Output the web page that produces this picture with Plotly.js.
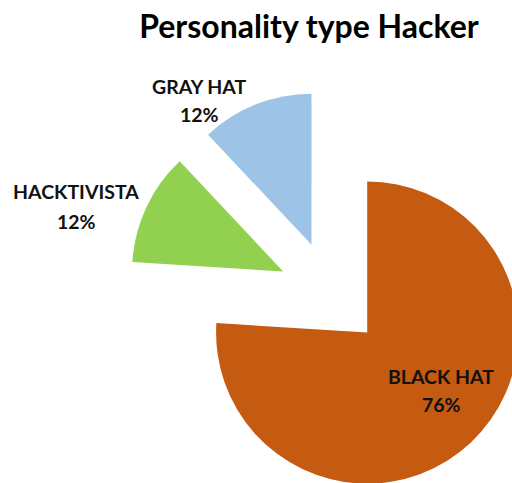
<!DOCTYPE html>
<html>
<head>
<meta charset="utf-8">
<script src="https://cdn.plot.ly/plotly-3.0.1.min.js"></script>
<style>
html,body{margin:0;padding:0;overflow:hidden;background:#fff;width:512px;height:483px;}
#chart{width:540px;height:500px;}
</style>
</head>
<body>
<div id="chart"></div>
<script>
// Data
var categories = ["BLACK HAT", "HACKTIVISTA", "GRAY HAT"];
var values = [76, 12, 12];
var colors = ["#C55A11", "#92D050", "#9DC3E6"];
var titleText = "Personality type Hacker";

// Layout geometry (pixels)
var W = 540, H = 500, ML = 127, MT = 90, BOX = 408;
function px(x){ return (x - ML) / BOX; }
function py(y){ return 1 - (y - MT) / BOX; }

var total = values.reduce(function(a,b){return a+b;}, 0);
function pct(v){ return Math.round(v / total * 100) + "%"; }

// label positions (pixel centres of the two text lines)
var labelPos = [
  {x: 441, y1: 376, y2: 404},
  {x: 76,  y1: 191, y2: 221},
  {x: 199, y1: 86,  y2: 114}
];

var labelFont = {family:"Lato, 'Open Sans', sans-serif", size:19.5, color:"#111"};
var annotations = [];
categories.forEach(function(c, i){
  var p = labelPos[i];
  annotations.push({xref:"paper", yref:"paper", x:px(p.x), y:py(p.y1), text:"<b>"+c+"</b>",
    showarrow:false, xanchor:"center", yanchor:"middle", font:labelFont});
  annotations.push({xref:"paper", yref:"paper", x:px(p.x), y:py(p.y2), text:"<b>"+pct(values[i])+"</b>",
    showarrow:false, xanchor:"center", yanchor:"middle", font:labelFont});
});

var trace = {
  type: "pie",
  labels: categories,
  values: values,
  marker: {colors: colors, line: {width: 0}},
  sort: false,
  direction: "clockwise",
  rotation: 0,
  pull: [0.35, 0.35, 0.35],
  textinfo: "none",
  hoverinfo: "none",
  showlegend: false
};

var layout = {
  width: W, height: H,
  margin: {l: ML, t: MT, r: W - ML - BOX, b: H - MT - BOX, pad: 0},
  paper_bgcolor: "#fff",
  plot_bgcolor: "#fff",
  showlegend: false,
  title: {
    text: "<b>" + titleText + "</b>",
    font: {family: "Lato, 'Open Sans', sans-serif", size: 32, color: "#000"},
    xref: "container", yref: "container",
    x: 309 / W, y: 1 - 27 / H,
    xanchor: "center", yanchor: "middle"
  },
  annotations: annotations
};

Plotly.newPlot("chart", [trace], layout, {displayModeBar: false, staticPlot: true});
</script>
</body>
</html>
